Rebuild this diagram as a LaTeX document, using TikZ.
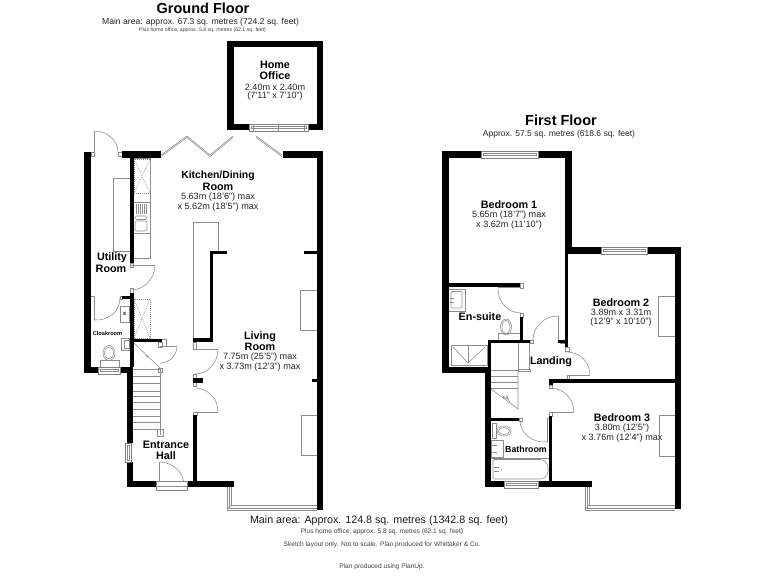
\documentclass[tikz,border=0pt]{standalone}
\usepackage{fontspec}
\setmainfont{Liberation Sans}
\usetikzlibrary{calc}
\tikzset{
  wallfill/.style={fill=black},
  fix/.style={draw=black!45,line width=.55pt},
  dotty/.style={draw=black!45,line width=.5pt,dash pattern=on 1pt off 1pt},
  glass/.style={draw=black!50,fill=white,line width=.55pt},
  title/.style={font=\bfseries\fontsize{14.5}{16}\selectfont,inner sep=0pt},
  sub/.style={font=\fontsize{8.6}{10}\selectfont,text=black!85,inner sep=0pt},
  tiny/.style={font=\fontsize{6.6}{8}\selectfont,text=black!75,inner sep=0pt},
  room/.style={font=\bfseries\fontsize{10.8}{12}\selectfont,inner sep=0pt},
  dim/.style={font=\fontsize{9.1}{10}\selectfont,text=black!85,inner sep=0pt},
  mainarea/.style={font=\fontsize{10.7}{12}\selectfont,text=black!90,inner sep=0pt},
}
\newcommand\wl[4]{\fill[wallfill] (#1,#2) rectangle (#3,#4);}
\newcommand\qarc[6]{\draw[fix] (#3,#4) .. controls ($(#3,#4)+.5523*(#5,#6)-.5523*(#1,#2)$) and ($(#5,#6)+.5523*(#3,#4)-.5523*(#1,#2)$) .. (#5,#6);}
\newcommand\hwin[4]{\draw[glass] (#1,#2) rectangle (#3,#4);
  \draw[fix] (#1+2,#2+2.4) rectangle (#3-2,#4-2.4);}
\newcommand\vwin[4]{\draw[glass] (#1,#2) rectangle (#3,#4);
  \draw[fix] (#1+2,#2+2) rectangle (#3-2,#4-2);}
\begin{document}
\begin{tikzpicture}[x=1pt,y=-1pt]
\useasboundingbox (0,0) rectangle (768,576);
\fill[white] (0,0) rectangle (768,576);

% ---------- GROUND FLOOR: fittings ----------
\draw[fix] (113,178) rectangle (130,251);
\draw[fix] (133,158) -- (150,158) -- (150,258) -- (133,258);
\draw[dotty] (134,159) rectangle (150,193);
\draw[dotty] (134,159) -- (150,193) (150,159) -- (134,193);
\draw[fix] (133,202) -- (150,202) (133,233) -- (150,233);
\foreach \x in {136,138,140,142,144,146} \draw[fix] (\x,204) -- (\x,214);
\draw[fix,rounded corners=1.5pt] (135,216) rectangle (147,219.5);
\draw[fix,rounded corners=2pt] (135,221) rectangle (147,231);
\draw[fix] (193,222) -- (218,222) -- (218,251) (193,222) -- (193,340);
\draw[dotty] (134,299) rectangle (150,338);
\draw[dotty] (134,299) -- (150,338) (150,299) -- (134,338);
\draw[fix] (120,306) rectangle (129,322);
\node[inner sep=0pt,font=\bfseries\fontsize{4.5}{5}\selectfont] (meter) at (124.5,314) {8};
\draw[fix] (121,338) rectangle (129,350);
\draw[fix] (124,340) rectangle (129,348);
\draw[fix] (109,353) ellipse (6 and 7.5);
\draw[fix] (109,353) ellipse (4.5 and 6);
\draw[fix] (100,360) rectangle (119,367);
\draw[fix] (301,415) rectangle (317,455);
\draw[fix] (300,290) rectangle (317,330);

% stairs ground
\foreach \y in {369,376,383,391,396,402,409,416,422,429} \draw[fix] (133,\y) -- (160,\y);
\draw[fix] (133,342) -- (160,368);
\draw[fix] (146,355) -- (146.5,357) -- (148,356);
\draw[fix] (160,368) -- (160,435) (157,429) rectangle (163,436);
\draw[fix] (158,368) rectangle (162,372);

% doors ground
\draw[fix] (94,131) -- (94,152); \qarc{94}{152}{94}{131}{118}{152}
\draw[fix] (91,152) rectangle (94,156);
\draw[fix] (118,152) rectangle (122,156);
\draw[fix] (131,265) -- (155,265); \qarc{131}{265}{155}{265}{131}{290}
\draw[fix] (130,263) rectangle (133,267);
\draw[fix] (130,288) rectangle (133,293);
\draw[fix] (91,296) -- (94,296) -- (94,320); \qarc{94}{296}{94}{320}{120}{298}
\draw[fix] (120,296) rectangle (122,299);
\draw[fix] (158,342) rectangle (162,347);
\draw[fix] (162,339) -- (166,339) -- (166,346);
\draw[fix] (160,346) -- (177,346); \qarc{160}{346}{177}{346}{160}{363}
\draw[fix] (195,349) -- (218,349); \qarc{195}{349}{218}{349}{195}{374}
\draw[fix] (193.5,342) rectangle (196.5,349);
\draw[fix] (193.5,374) rectangle (196.5,386);
\draw[fix] (195,412) -- (218,412); \qarc{195}{412}{218}{412}{195}{388}
\draw[fix] (193.5,412) rectangle (197,415);
\draw[fix] (159,485) -- (159,462); \qarc{159}{485}{159}{462}{184}{485}
\draw[fix] (184,485) -- (184,481);
% bifold
\foreach \d in {0,1.5} {
  \draw[fix] (161,155+\d) -- (187,136+\d) -- (210,155+\d) -- (233,136+\d);
  \draw[fix] (256,136+\d) -- (282,155+\d);
}

% ---------- GROUND FLOOR: walls ----------
\wl{227}{41}{323}{47} \wl{227}{47}{234}{130} \wl{317}{47}{323}{130}
\wl{234}{124}{249}{130} \wl{308}{124}{317}{130}
\hwin{249}{124}{308}{131}
\draw[fix] (253,124) -- (253,131) (278,124) -- (278,131) (304,124) -- (304,131);

\wl{84}{152}{91}{373} \wl{91}{367}{98}{373} \wl{120}{367}{133}{373}
\hwin{98}{367}{120}{374}
\wl{127}{373}{133}{443} \wl{127}{462}{133}{487}
\vwin{125}{443}{131}{462}
\wl{127}{481}{156}{487} \wl{187}{481}{234}{487}
\draw[glass] (156,481) rectangle (187,490);
\draw[fix] (156,486) -- (187,486);
\wl{193}{415}{197}{481}
\wl{122}{151}{161}{158} \wl{283}{151}{323}{158}
\wl{317}{158}{323}{510}
\wl{130}{158}{133.5}{263}
\wl{130}{293}{133.5}{367}
\wl{122}{296}{130}{299}
\wl{133}{339}{162}{342}
\wl{210}{251}{227}{254} \wl{210}{251}{213}{342}
\wl{193}{338}{213}{342}
\wl{193}{378}{203}{383}
\wl{304}{251}{317}{254} \wl{312}{379}{317}{382}
% bay ground
\draw[fix] (227,487) -- (227,510) -- (317,510);
\draw[fix] (229,487) -- (229,508) -- (317,508);
\draw[fix] (231,487) -- (231,505) -- (317,505);
\draw[fix] (227,510) -- (231,505);

% ---------- FIRST FLOOR: fittings ----------
\draw[fix] (449,289) -- (465,289) -- (465,311) -- (449,311);
\draw[fix,rounded corners=1pt] (451,291.5) rectangle (462,308);
\draw[fix] (450,298) -- (454,298) (450,302) -- (454,302);
\draw[fix] (506,327) ellipse (5.5 and 8);
\draw[fix] (506,327) ellipse (4 and 6.5);
\draw[fix] (498,333) rectangle (520,340);
\draw[fix] (451,345) rectangle (487,365);
\draw[fix] (453,347) -- (468,363) -- (485,347);
\draw[fix] (468,346) -- (468,363);
\draw[fix] (518,343) -- (518,370) (529,343) -- (529,370);
\draw[fix] (518,369) rectangle (530,371);
\foreach \y in {376,382,388} \draw[fix] (491,\y) -- (518,\y);
\draw[fix] (491,370) -- (518,370);
\draw[fix] (518,370) -- (518,409) -- (491,389);
\draw[fix] (504,399) -- (503,396) -- (507,399) -- (507,396) -- (510,403);
\draw[fix] (504,431) ellipse (7 and 5);
\draw[fix] (504,431) ellipse (5.5 and 3.5);
\draw[fix] (492,423) rectangle (496,438);
\draw[fix] (491,440) rectangle (503,457);
\draw[fix] (491,445) -- (497,445) (491,452) -- (497,452);
\draw[fix] (491,458) -- (549,458);
\draw[fix,rounded corners=8pt] (520,459.5) -- (548,459.5) -- (548,479) -- (520,479);
\draw[fix,rounded corners=1pt] (520,459.5) -- (493,459.5) -- (493,479) -- (520,479);
\draw[fix] (494,467) -- (499,467) (494,471) -- (499,471) (501,469) -- (502,469);
\draw[fix] (658,296) rectangle (675,336);
\draw[fix] (659,415) rectangle (675,456);

% doors first
\draw[fix] (498,287) -- (521,287); \qarc{521}{289}{498}{289}{521}{313}
\draw[fix] (520,283) rectangle (523,288);
\draw[fix] (520,313) rectangle (523,317);
\draw[fix] (558,340) -- (558,316); \qarc{558}{340}{558}{316}{533}{340}
\draw[fix] (530,340) rectangle (533,343);
\draw[fix] (560,340) rectangle (565,343);
\draw[fix] (565,347) rectangle (569,351);
\draw[fix] (567,375) -- (590,375); \qarc{567}{375}{567}{352}{590}{375}
\draw[fix] (567,375) -- (567,379) (569,375) -- (569,379);
\draw[fix] (550,412) -- (574,412); \qarc{550}{412}{550}{388}{574}{412}
\draw[fix] (549.5,385) rectangle (552.5,388);
\draw[fix] (547,418) -- (547,442); \qarc{547}{418}{520}{420}{547}{442}
\draw[fix] (547,418) -- (550,418);
\draw[fix] (519,418) rectangle (522,421);
\draw[fix] (549,412) rectangle (552,416);

% ---------- FIRST FLOOR: walls ----------
\wl{442}{151}{481}{158} \wl{538}{151}{572}{158} \wl{442}{158}{449}{373}
\wl{565}{158}{572}{247}
\hwin{481}{151}{538}{158}
\wl{565}{247}{601}{254} \wl{647}{247}{681}{254}
\hwin{601}{247}{647}{254}
\wl{565}{254}{568}{347} \wl{558}{340}{568}{343}
\wl{675}{254}{681}{509}
\wl{550}{379}{675}{383}
\wl{449}{283}{520}{287}
\wl{520}{317}{523}{340}
\wl{488}{340}{530}{343}
\wl{488}{343}{491}{367}
\wl{449}{367}{491}{373}
\wl{485}{373}{491}{487}
\wl{491}{418}{519}{421}
\wl{549}{379}{553}{385}
\wl{549}{416}{552}{483}
\wl{491}{481}{504}{487} \wl{538}{481}{592}{487}
\hwin{504}{481}{538}{488}
% bay first
\draw[fix] (585,487) -- (585,510) -- (675,510);
\draw[fix] (587,487) -- (587,508) -- (675,508);
\draw[fix] (589,487) -- (589,505) -- (675,505);
\draw[fix] (585,510) -- (589,505);

% ---------- TEXTS ----------
\node[title] (gf) at (203,8) {Ground Floor};
\node[sub] (gf1) at (200.5,22) {Main area: approx. 67.3 sq. metres (724.2 sq. feet)};
\node[tiny,font=\fontsize{5.15}{6}\selectfont] (gf2) at (202.5,30) {Plus home office, approx. 5.8 sq. metres (62.1 sq. feet)};
\node[title] (ff) at (561,120) {First Floor};
\node[dim,font=\fontsize{8.5}{10}\selectfont] (ff1) at (559,134) {Approx. 57.5 sq. metres (618.6 sq. feet)};

\node[room] (ho1) at (275,65) {Home};
\node[room] (ho2) at (275,76) {Office};
\node[dim] (ho3) at (275,87) {2.40m x 2.40m};
\node[dim] (ho4) at (275,96) {(7'11" x 7'10")};

\node[room,font=\bfseries\fontsize{10.4}{12}\selectfont] (kd1) at (218,176) {Kitchen/Dining};
\node[room] (kd2) at (218,187) {Room};
\node[dim] (kd3) at (218,197) {5.63m (18'6") max};
\node[dim] (kd4) at (218,207) {x 5.62m (18'5") max};

\node[room] (ur1) at (112,258) {Utility};
\node[room] (ur2) at (111,269) {Room};
\node[inner sep=0pt,font=\bfseries\fontsize{5.6}{6}\selectfont] (cl) at (107.5,333) {Cloakroom};
\node[room] (eh1) at (166,445) {Entrance};
\node[room] (eh2) at (166,456) {Hall};
\node[room] (lr1) at (260,337) {Living};
\node[room] (lr2) at (260,347) {Room};
\node[dim] (lr3) at (260,357) {7.75m (25'5") max};
\node[dim] (lr4) at (260,367) {x 3.73m (12'3") max};

\node[room] (b11) at (509,205) {Bedroom 1};
\node[dim] (b12) at (509,215) {5.65m (18'7") max};
\node[dim] (b13) at (509,225) {x 3.62m (11'10")};
\node[room] (b21) at (621,303) {Bedroom 2};
\node[dim] (b22) at (621,312) {3.89m x 3.31m};
\node[dim] (b23) at (621,322) {(12'9" x 10'10")};
\node[room] (b31) at (622,418) {Bedroom 3};
\node[dim] (b32) at (622,428) {3.80m (12'5")};
\node[dim] (b33) at (622,438) {x 3.76m (12'4") max};
\node[room] (es) at (480,317) {En-suite};
\node[room] (la) at (551,362) {Landing};
\node[room,font=\bfseries\fontsize{8.8}{10}\selectfont] (ba) at (526,449) {Bathroom};

\node[mainarea] (m1) at (379,521) {Main area: Approx. 124.8 sq. metres (1342.8 sq. feet)};
\node[tiny] (m2) at (382,531.5) {Plus home office, approx. 5.8 sq. metres (62.1 sq. feet)};
\node[tiny] (m3) at (382,545) {Sketch layout only. Not to scale. Plan produced for Whittaker \& Co.};
\node[tiny] (m4) at (382,567) {Plan produced using PlanUp.};
\end{tikzpicture}
\end{document}
